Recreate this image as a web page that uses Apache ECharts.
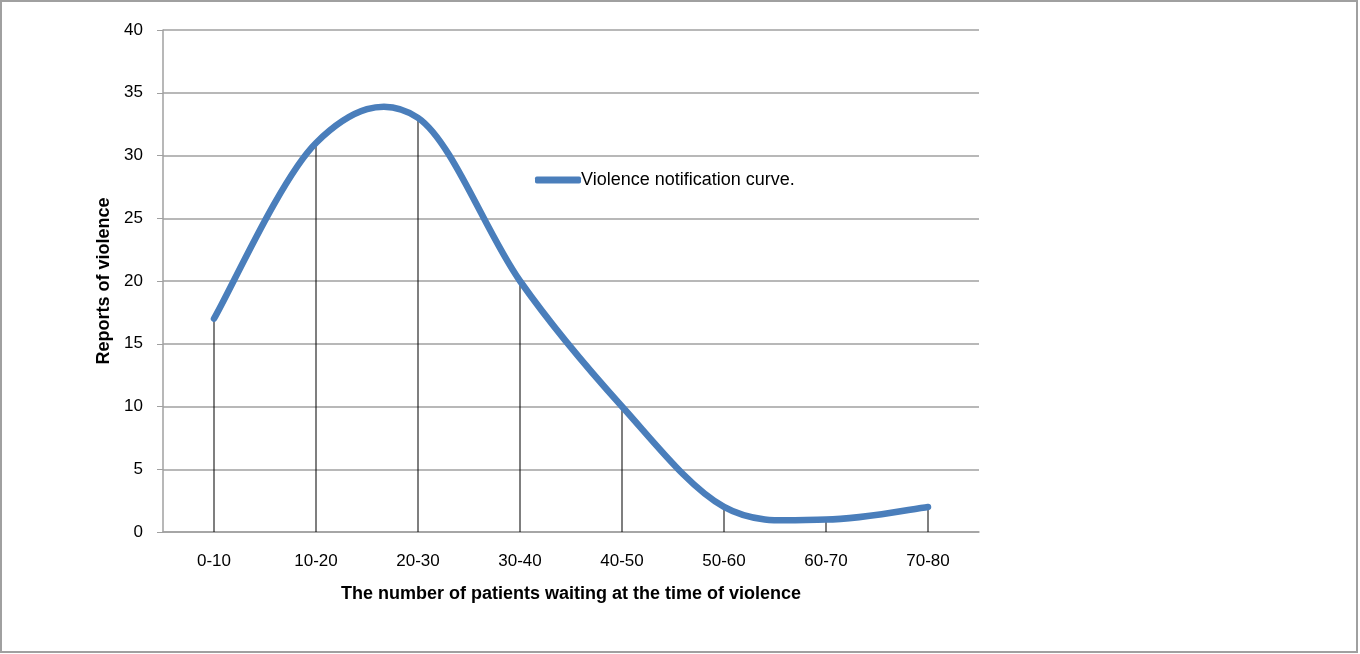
<!DOCTYPE html>
<html><head><meta charset="utf-8">
<script src="https://cdn.jsdelivr.net/npm/echarts@6/dist/echarts.min.js"></script>
<style>html,body{margin:0;padding:0;background:#fff}#c{width:1360px;height:654px}</style>
</head><body><div id="c"></div>
<script>
const categories = ['0-10','10-20','20-30','30-40','40-50','50-60','60-70','70-80'];
const reports = [17, 31, 33, 20, 10, 2, 1, 2];
const yTicks = [0, 5, 10, 15, 20, 25, 30, 35, 40];
const seriesName = 'Violence notification curve.';
const xTitle = 'The number of patients waiting at the time of violence';
const yTitle = 'Reports of violence';

const chart = echarts.init(document.getElementById('c'), null, {renderer:'canvas'});
const font = 'Liberation Sans';
const lineColor = '#4a7ebb';

function renderCurve(params, api) {
  if (params.dataIndex !== 0) return null;
  const pts = reports.map((v, i) => api.coord([i, v]));
  const n = pts.length;
  let d = 'M' + pts[0][0] + ' ' + pts[0][1];
  for (let i = 0; i < n - 1; i++) {
    const p0 = pts[Math.max(0, i - 1)], p1 = pts[i], p2 = pts[i + 1], p3 = pts[Math.min(n - 1, i + 2)];
    const c1x = p1[0] + (p2[0] - p0[0]) / 6, c1y = p1[1] + (p2[1] - p0[1]) / 6;
    const c2x = p2[0] - (p3[0] - p1[0]) / 6, c2y = p2[1] - (p3[1] - p1[1]) / 6;
    d += ' C' + c1x + ' ' + c1y + ' ' + c2x + ' ' + c2y + ' ' + p2[0] + ' ' + p2[1];
  }
  return {
    type: 'path',
    shape: {pathData: d},
    style: {fill: null, stroke: lineColor, lineWidth: 6.5, lineCap: 'round', lineJoin: 'round'}
  };
}

chart.setOption({
  animation: false,
  textStyle: {fontFamily: font},
  graphic: [{type:'rect', shape:{x:1,y:1,width:1356,height:651}, style:{fill:'none', stroke:'#a0a0a0', lineWidth:2}, silent:true}],
  grid: {left:163, right:381, top:30, bottom:122},
  legend: {
    data:[{name: seriesName, icon:'roundRect', itemStyle:{color: lineColor}}],
    left:535, top:171, padding:0, itemWidth:46, itemHeight:7, itemGap:0,
    textStyle:{fontFamily:font, fontSize:18, color:'#000', padding:[0,0,0,-5]}
  },
  xAxis: {
    type:'category', data:categories, boundaryGap:true,
    axisLine:{lineStyle:{color:'#a0a0a0', width:1.5}},
    axisTick:{show:false},
    axisLabel:{color:'#000', fontSize:17, margin:21, fontFamily:font},
    name:xTitle, nameLocation:'middle', nameGap:53,
    nameTextStyle:{color:'#000', fontSize:18, fontWeight:'bold', fontFamily:font}
  },
  yAxis: {
    type:'value', min:0, max:40, interval:5,
    axisLine:{show:true, lineStyle:{color:'#a0a0a0', width:1.5}},
    axisTick:{show:true, inside:false, length:6, lineStyle:{color:'#a0a0a0'}},
    axisLabel:{color:'#000', fontSize:17, margin:20, fontFamily:font,
      formatter: v => yTicks.includes(v) ? String(v) : ''},
    splitLine:{lineStyle:{color:'#a0a0a0', width:1.5}},
    name:yTitle, nameLocation:'middle', nameGap:48, nameRotate:90,
    nameTextStyle:{color:'#000', fontSize:18, fontWeight:'bold', fontFamily:font}
  },
  series: [
    {name:'drop', type:'bar', data:reports, barWidth:1, barGap:'-100%', z:1,
     itemStyle:{color:'#000'}, silent:true},
    {name:seriesName, type:'custom', data:reports.map((v, i) => [i, v]), renderItem: renderCurve,
     encode:{x:0, y:1}, z:3, itemStyle:{color: lineColor}, silent:true}
  ]
});
</script></body></html>
